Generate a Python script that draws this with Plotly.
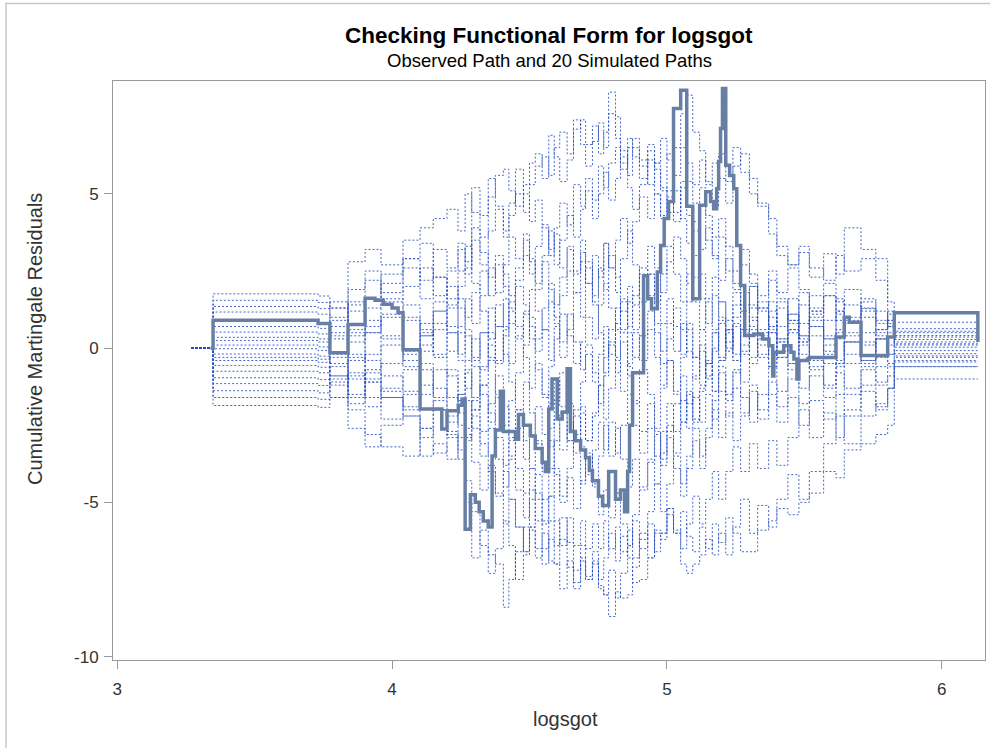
import plotly.graph_objects as go

# ---------------- data ----------------
# common x grid (logsgot values where the simulated paths step)
GRID = [3.271, 3.349, 3.731, 3.774, 3.840, 3.902, 3.960, 4.040, 4.102, 4.150,
        4.200, 4.240, 4.266, 4.290, 4.320, 4.350, 4.376, 4.405, 4.425, 4.449,
        4.478, 4.500, 4.521, 4.546, 4.570, 4.590, 4.610, 4.637, 4.660, 4.686,
        4.704, 4.729, 4.751, 4.770, 4.788, 4.813, 4.831, 4.857, 4.875, 4.900,
        4.930, 4.955, 4.977, 5.000, 5.024, 5.050, 5.072, 5.094, 5.119, 5.141,
        5.165, 5.188, 5.214, 5.240, 5.268, 5.300, 5.330, 5.370, 5.400, 5.440,
        5.480, 5.518, 5.570, 5.615, 5.645, 5.706, 5.760, 5.803, 5.827]
X_END = 6.131

sim01 = [0, 1.76, 1.69, 1.3, 2.8, 3.2, 2.7, 3.5, 3.9, 4.2, 4.5, 3.8, 5.0, 4.4, 3.6, 4.9, 5.6, 5.8, 5.1, 4.6,
         5.3, 6.0, 6.3, 5.5, 6.9, 6.2, 5.4, 6.1, 7.1, 7.4, 6.6, 7.2, 6.3, 7.0, 8.3, 7.5, 6.4, 5.2, 4.5, 5.3,
         6.1, 5.0, 4.2, 4.9, 4.1, 5.4, 4.3, 3.8, 4.6, 3.5, 2.9, 3.6, 2.5, 1.9, 2.7, 2.1, 1.3, 2.2, 1.6, 0.9,
         1.8, 1.2, 1.7, 0.9, 1.4, 1.0, 0.4, 0.7, 0.2]
sim02 = [0, 1.55, 1.48, 1.0, 1.9, 2.5, 1.8, 2.9, 2.2, 3.2, 2.6, 3.4, 2.8, 3.9, 3.1, 2.3, 3.0, 2.4, 1.7, 2.6,
         3.5, 2.9, 2.1, 3.0, 3.8, 2.7, 3.5, 4.3, 3.6, 4.5, 5.1, 4.2, 5.0, 5.7, 4.8, 5.5, 6.2, 5.6, 6.5, 5.9,
         6.6, 6.0, 6.8, 6.1, 6.5, 7.6, 8.2, 7.0, 6.4, 5.3, 6.0, 6.3, 5.4, 6.5, 5.7, 5.0, 4.7, 4.2, 3.3, 2.7,
         3.1, 2.3, 3.06, 2.4, 3.9, 3.2, 2.9, 1.5, 0.84]
sim03 = [0, 1.35, 1.28, 1.5, 0.6, 1.3, 2.1, 2.6, 1.6, 2.3, 1.4, 2.0, 2.6, 5.2, 4.3, 5.5, 4.6, 3.8, 4.7, 5.8,
         5.0, 4.1, 4.8, 3.9, 3.0, 3.7, 2.6, 3.3, 2.4, 3.1, 2.1, 1.5, 2.6, 1.9, 3.0, 2.3, 1.2, 2.0, 1.4, 2.4,
         3.3, 2.6, 1.8, 2.8, 3.6, 2.9, 2.1, 3.0, 2.4, 1.6, 2.3, 1.5, 0.9, 1.8, 1.2, 2.0, 1.3, 0.7, 1.5, 0.9,
         0.4, 1.1, 1.7, 1.2, 1.9, 1.28, 0.8, 1.1, 0.55]
sim04 = [0, 1.17, 1.1, 0.5, 1.4, 0.7, 1.5, 2.0, 2.6, 1.7, 2.5, 3.2, 2.4, 3.5, 2.7, 3.8, 4.5, 3.6, 4.3, 5.0,
         4.4, 5.3, 5.9, 6.2, 5.6, 6.5, 7.0, 6.3, 7.4, 6.6, 5.9, 6.7, 7.3, 6.5, 7.6, 6.8, 6.0, 6.8, 6.2, 5.5,
         6.4, 5.8, 5.1, 6.3, 5.6, 6.5, 5.4, 4.7, 5.2, 4.3, 3.6, 4.2, 3.3, 2.5, 3.2, 2.4, 1.7, 2.5, 1.8, 2.6,
         1.9, 1.3, 2.1, 1.5, 1.0, 1.6, 1.2, 0.7, 0.41]
sim05 = [0, 0.52, 0.46, 0.9, 0.2, 0.9, 0.3, -0.2, 0.8, 1.5, 0.7, 1.6, 1.0, 1.8, 2.5, 1.7, 2.7, 2.0, 1.3, 2.2,
         3.0, 2.4, 3.3, 4.0, 3.2, 3.9, 4.7, 4.0, 5.3, 4.6, 5.5, 4.8, 5.9, 5.2, 6.0, 6.5, 5.8, 6.5, 6.8, 6.1,
         5.3, 6.0, 5.2, 4.4, 5.1, 4.2, 3.4, 4.1, 3.2, 3.9, 3.0, 2.2, 2.9, 2.1, 1.4, 2.0, 1.2, 0.5, 1.3, 0.6,
         1.4, 0.7, -0.2, 0.5, 0.9, 0.1, 0.6, 0.9, 0.36]
sim06 = [0, 0.35, 0.3, -0.3, -0.9, -0.2, 0.4, 0.9, -0.1, 0.6, 1.3, 0.5, -0.4, 0.3, -0.7, 0.1, -0.5, 0.4, 1.2, 0.3,
         1.1, 1.9, 1.2, 0.6, 1.5, 0.8, 1.7, 2.5, 1.8, 2.8, 2.1, 3.0, 2.3, 3.4, 2.6, 3.5, 4.2, 3.4, 4.1, 4.9,
         4.2, 5.0, 4.3, 5.1, 4.4, 5.2, 6.0, 5.3, 6.1, 5.4, 4.6, 5.5, 4.7, 5.9, 6.3, 5.5, 4.6, 3.7, 3.0, 2.7,
         3.3, 2.6, 2.2, 3.0, 2.5, 2.9, 2.2, 0.7, 0.14]
sim07 = [0, 0.25, 0.2, 0.7, 1.5, 2.2, 1.6, 1.0, 0.4, 1.2, 0.5, -0.2, 0.6, -0.3, 0.5, 1.3, 0.7, 1.6, 0.8, 2.0,
         1.4, 0.7, -0.1, 0.6, -0.4, 0.3, 1.1, 0.4, -0.5, 0.2, 1.0, 0.3, 1.4, 2.1, 1.3, 0.6, 1.5, 0.5, -0.3, 0.4,
         1.2, 0.5, -0.5, 0.3, 1.3, 0.6, 1.5, 2.3, 1.6, 0.8, 1.7, 1.0, 0.2, 1.0, 1.8, 0.9, 1.5, 0.7, -0.1, 0.8,
         0.2, 0.9, 0.3, -0.4, 0.2, -0.5, 0.3, 0.5, 0.03]
sim08 = [0, 0.1, 0.04, -0.5, 0.4, 1.6, 2.4, 2.9, 3.4, 2.3, 1.6, 2.5, 3.3, 2.1, 1.2, 0.3, 1.4, 0.7, -0.5, 0.4,
         1.2, 0.3, -0.7, -1.6, -0.6, 0.7, -0.3, 0.6, 1.8, 1.0, 2.6, 1.4, 0.5, -0.8, 0.2, 1.3, 0.5, -0.6, -1.8, -0.7,
         -1.5, -2.6, -1.3, -0.4, -1.4, -0.3, 0.8, -0.3, 0.6, -0.5, 0.5, -0.4, 0.6, -0.2, -1.1, -0.3, 0.5, -0.6, 0.3, -0.5,
         0.4, -0.7, 0.1, -0.6, 0.2, -0.4, 0.3, -0.2, -0.08]
sim09 = [0, -0.02, -0.08, 0.4, -0.3, -1.1, -0.5, -0.1, 0.5, -0.2, -0.9, -1.7, -0.8, -2.0, -1.2, -0.4, -1.5, -2.5, -1.7, -0.8,
         0.1, 1.0, 0.3, 1.3, 2.1, 1.4, 2.3, 3.2, 2.5, 3.5, 2.8, 1.7, 2.5, 3.4, 2.6, 1.8, 2.9, 3.8, 2.7, 1.6,
         2.4, 1.7, 0.8, 1.6, 0.7, -0.2, 0.6, -0.3, -1.2, -0.4, 0.5, -0.3, 0.6, -0.4, 0.4, -0.5, 0.3, -0.6, 0.2, -0.7,
         0.1, -0.6, -1.3, -0.5, 0.2, -0.4, 0.3, -0.5, -0.18]
sim10 = [0, -0.19, -0.26, -0.9, -1.6, -0.8, -1.4, -1.9, -2.6, -1.7, -2.4, -1.5, -0.7, -1.6, -0.6, 0.5, -0.4, 0.6, 1.5, 0.7,
         -0.3, -1.3, -0.5, -1.5, -2.6, -1.7, -0.8, -1.8, -2.8, -1.9, -3.0, -2.2, -1.2, -2.3, -1.3, -0.4, -1.4, -0.5, 0.5, -0.4,
         0.6, -0.3, -1.2, -0.4, -1.5, -2.4, -1.4, -2.3, -1.3, -0.5, -1.4, -0.6, -1.5, -0.7, -1.6, -2.4, -1.5, -0.6, -1.4, -0.5,
         -1.3, -0.4, -1.2, -0.5, -1.3, -0.6, -1.1, -0.6, -0.3]
sim11 = [0, -0.4, -0.46, 0.3, 1.2, 0.5, 1.1, -0.4, 0.4, 1.2, 2.0, 1.3, 0.4, -0.6, -1.5, -2.4, -1.6, -2.7, -3.5, -2.6,
         -3.6, -2.8, -1.9, -2.8, -1.8, -1.0, -1.9, -3.0, -2.2, -3.2, -4.1, -3.3, -2.4, -3.3, -2.4, -3.4, -2.5, -1.5, -2.5, -3.4,
         -2.6, -3.5, -2.7, -1.8, -2.7, -1.7, -2.6, -1.6, -2.4, -1.5, -2.3, -1.4, -2.2, -1.3, -2.1, -1.2, -2.0, -1.1, -1.9, -1.0,
         -1.8, -0.9, -1.6, -0.8, -1.5, -0.7, -1.2, -0.9, -0.4]
sim12 = [0, -0.56, -0.62, -1.2, -0.4, 0.5, 1.0, 1.4, 0.6, -0.3, 0.5, -0.4, -1.3, -0.4, 0.5, -0.3, 0.7, -0.2, -1.1, -2.0,
         -1.1, -2.1, -3.0, -3.9, -3.0, -4.1, -5.0, -4.2, -5.2, -4.3, -3.4, -4.4, -3.5, -2.5, -3.5, -2.6, -3.6, -4.5, -3.6, -4.6,
         -3.7, -2.8, -3.8, -2.9, -3.9, -4.8, -3.9, -3.0, -3.9, -2.9, -2.0, -2.9, -2.1, -3.0, -2.2, -1.4, -2.3, -1.5, -2.4, -1.6,
         -2.5, -1.7, -2.3, -1.5, -2.2, -1.4, -2.0, -1.3, -0.45]
sim13 = [0, -0.75, -0.8, -0.2, -1.0, -1.9, -1.3, -0.7, 0.1, 0.8, -0.1, 0.7, 1.6, 0.8, 1.7, 2.6, 1.8, 2.7, 3.6, 2.9,
         3.7, 2.8, 1.9, 2.8, 1.9, 1.0, 0.2, 1.1, 0.2, -0.7, 0.1, -0.8, -1.8, -0.9, 0.1, -0.8, 0.2, -0.9, -1.7, -2.7,
         -1.8, -2.7, -3.6, -2.7, -1.8, -0.9, -1.8, -0.9, 0.1, -0.9, 0.0, 0.9, 0.0, 0.8, -0.1, 0.7, -0.2, 0.6, -0.3, 0.5,
         -0.4, 0.4, -0.5, 0.3, -0.5, 0.2, -0.6, 0.1, -0.25]
sim14 = [0, -0.96, -1.02, -1.6, -0.8, -1.6, -2.3, -1.5, -0.7, -1.6, -0.7, -1.7, -2.6, -1.7, -2.7, -1.8, -0.9, -1.9, -2.9, -2.0,
         -3.0, -3.9, -3.1, -4.0, -3.2, -2.3, -3.3, -2.4, -3.4, -4.4, -3.5, -4.5, -5.4, -4.6, -5.5, -4.7, -5.7, -6.4, -5.6, -6.5,
         -5.7, -6.6, -6.0, -5.2, -6.0, -5.3, -6.1, -6.6, -5.8, -6.5, -5.7, -6.3, -5.5, -6.0, -6.6, -6.6, -5.9, -5.6, -5.2, -5.4,
         -5.0, -4.7, -4.0, -4.2, -3.3, -3.1, -2.8, -2.5, -1.0]
sim15 = [0, -1.15, -1.21, -0.6, -1.5, -0.7, 0.1, -0.6, -1.5, -0.7, -1.6, -2.5, -1.7, -2.6, -3.5, -2.6, -3.6, -4.5, -3.6, -4.6,
         -5.5, -4.6, -5.6, -6.5, -5.6, -6.4, -5.5, -6.3, -7.2, -6.4, -7.4, -6.6, -7.5, -6.8, -6.0, -6.9, -6.1, -6.8, -7.6, -7.5,
         -6.8, -6.0, -6.2, -5.4, -5.9, -6.5, -5.7, -4.8, -5.7, -4.9, -4.0, -4.9, -4.0, -3.2, -4.0, -3.1, -3.9, -3.0, -3.8, -2.9,
         -2.0, -2.9, -2.1, -2.9, -2.0, -1.2, -1.9, -1.3, -0.6]
sim16 = [0, -1.38, -1.45, -0.9, -1.8, -1.0, -1.6, -2.2, -2.9, -2.0, -2.8, -3.6, -2.8, -3.7, -4.6, -3.8, -4.7, -5.7, -4.9, -5.8,
         -6.6, -5.9, -6.8, -6.0, -6.9, -7.0, -6.2, -7.1, -7.8, -6.9, -7.5, -7.0, -7.8, -8.0, -7.2, -8.1, -7.3, -6.4, -5.4, -4.5,
         -3.6, -4.4, -3.4, -2.5, -3.4, -2.4, -1.5, -2.4, -1.4, -0.5, -1.4, -0.4, 0.5, -0.4, 0.6, 1.4, 0.6, 1.5, 0.7, 1.6,
         0.8, 1.7, 0.9, 1.6, 0.8, 1.5, 0.9, 0.8, 0.1]
sim17 = [0, -1.6, -1.66, -1.1, -2.0, -2.8, -3.2, -3.5, -2.6, -3.4, -2.7, -3.3, -5.0, -6.8, -5.9, -6.7, -7.0, -8.4, -7.5, -6.6,
         -5.8, -4.9, -4.1, -4.9, -3.9, -3.0, -2.1, -3.0, -2.0, -1.1, -0.2, -1.1, -0.2, 0.7, -0.2, 0.8, 1.6, 0.7, 1.7, 2.6,
         1.7, 0.8, -0.1, 0.8, -0.1, 0.8, -0.1, -1.0, -0.1, -1.0, -0.1, 0.8, -0.1, 0.7, -0.2, 0.6, -0.3, 0.5, -0.3, 0.6,
         -0.2, 0.7, -0.1, 0.6, -0.2, 0.5, -0.3, -0.2, 0.28]
sim18 = [0, -1.86, -1.92, -1.6, -2.6, -3.2, -2.5, -2.2, -3.5, -3.1, -3.6, -2.9, -4.3, -5.3, -6.4, -7.3, -6.5, -5.6, -6.4, -7.5,
         -6.7, -5.8, -4.9, -5.7, -4.8, -3.9, -4.8, -3.9, -3.0, -2.1, -3.0, -2.1, -1.2, -0.3, 0.6, -0.3, 0.6, 1.5, 0.6, 1.5,
         2.4, 1.5, 2.4, 3.3, 2.4, 1.5, 2.4, 1.5, 0.6, 1.5, 0.6, 1.5, 0.6, 1.4, 0.5, 1.3, 0.4, 1.2, 0.3, 1.1,
         0.2, 1.0, 0.3, 1.1, 0.4, 1.2, 0.5, 0.9, 0.5]
sim19 = [0, 0.7, 0.64, 1.3, 0.5, -0.4, -0.9, -1.4, -0.5, -1.3, -2.2, -1.5, -3.0, -2.2, -3.1, -4.0, -4.8, -4.0, -4.9, -5.8,
         -6.6, -5.8, -6.5, -7.0, -6.2, -7.0, -7.8, -6.9, -7.6, -6.8, -7.5, -6.9, -7.7, -8.0, -8.7, -7.9, -8.1, -8.0, -7.1, -6.2,
         -5.3, -4.4, -5.3, -4.4, -3.5, -4.4, -3.5, -2.6, -3.5, -2.6, -1.7, -0.8, -1.7, -0.8, 0.1, 1.0, 0.1, 1.0, 0.2, 1.1,
         0.3, 1.2, 0.4, 1.2, 0.5, 1.3, 0.6, 1.2, 0.63]
sim20 = [0, -0.3, -0.36, -1.0, -0.2, -1.1, -1.6, -2.0, -1.2, -2.0, -2.9, -2.1, -2.9, -2.0, -1.2, -2.1, -2.9, -3.8, -3.0, -3.9,
         -4.7, -3.9, -4.7, -5.6, -4.8, -5.6, -6.4, -5.5, -6.4, -5.6, -6.5, -5.7, -6.5, -5.6, -6.5, -5.8, -6.6, -5.9, -6.8, -6.0,
         -6.8, -5.9, -6.0, -5.2, -6.0, -7.0, -7.3, -7.0, -6.7, -6.2, -6.7, -6.0, -6.7, -5.8, -4.9, -6.0, -5.1, -5.8, -4.9, -4.1,
         -4.9, -4.0, -3.1, -2.2, -3.1, -2.2, -1.8, -1.3, -0.6]

SIMULATED = [sim01, sim02, sim03, sim04, sim05, sim06, sim07, sim08, sim09, sim10,
             sim11, sim12, sim13, sim14, sim15, sim16, sim17, sim18, sim19, sim20]

# observed path (step function)
obs_x = [3.340, 3.349, 3.731, 3.774, 3.840, 3.902, 3.938, 3.968, 4.000, 4.022,
         4.040, 4.102, 4.181, 4.200, 4.241, 4.255, 4.266, 4.285, 4.303, 4.317,
         4.332, 4.350, 4.364, 4.376, 4.394, 4.405, 4.449, 4.460, 4.478, 4.503,
         4.521, 4.546, 4.558, 4.570, 4.582, 4.601, 4.619, 4.637, 4.649, 4.667,
         4.686, 4.704, 4.718, 4.729, 4.751, 4.766, 4.788, 4.813, 4.831, 4.846,
         4.857, 4.864, 4.875, 4.915, 4.930, 4.944, 4.965, 4.977, 4.990, 5.006,
         5.024, 5.050, 5.072, 5.094, 5.119, 5.141, 5.159, 5.170, 5.181, 5.188,
         5.195, 5.202, 5.214, 5.228, 5.243, 5.254, 5.268, 5.283, 5.316, 5.348,
         5.371, 5.385, 5.389, 5.425, 5.451, 5.462, 5.473, 5.480, 5.512, 5.518,
         5.615, 5.645, 5.663, 5.706, 5.803, 5.827, 6.131]
obs_y = [0.0, 0.9, 0.8, -0.15, 0.77, 1.62, 1.55, 1.42, 1.3, 1.15,
         -0.05, -1.97, -2.62, -2.03, -1.85, -1.65, -5.87, -4.75, -5.0, -5.3,
         -5.6, -5.8, -3.5, -2.65, -1.4, -2.7, -2.95, -2.15, -2.5, -2.85,
         -3.25, -3.7, -4.0, -1.97, -1.0, -2.3, -2.07, -0.67, -2.7, -3.0,
         -3.3, -3.55, -3.97, -4.3, -4.8, -5.1, -4.0, -4.9, -4.6, -5.3,
         -4.0, -2.5, -0.8, 2.35, 1.6, 1.28, 2.47, 3.33, 4.2, 4.75,
         7.77, 8.36, 4.6, 1.6, 4.63, 5.07, 4.75, 4.52, 5.17, 6.05,
         7.12, 8.42, 5.93, 5.6, 5.17, 3.33, 2.03, 0.41, 0.46, 0.3,
         0.08, -0.9, -0.13, 0.08, -0.13, -0.35, -1.0, -0.4, -0.35, -0.3,
         0.36, 1.0, 0.84, -0.24, 0.36, 1.15, 0.2]

X_TICKS = [3, 4, 5, 6]
X_TICKTEXT = ["3", "4", "5", "6"]
Y_TICKS = [-10, -5, 0, 5]
Y_TICKTEXT = ["-10", "-5", "0", "5"]
TITLE = "Checking Functional Form for logsgot"
SUBTITLE = "Observed Path and 20 Simulated Paths"
X_LABEL = "logsgot"
Y_LABEL = "Cumulative Martingale Residuals"

for s in SIMULATED:
    assert len(s) == len(GRID)
assert len(obs_x) == len(obs_y)

# ---------------- figure ----------------
FONT = "Liberation Sans, Arial, sans-serif"
SIM_COLOR = "rgba(35,75,190,0.85)"
OBS_COLOR = "rgb(104,127,165)"
AXIS_COLOR = "#9a9a9a"

fig = go.Figure()
for vals in SIMULATED:
    fig.add_trace(go.Scatter(
        x=GRID + [X_END], y=vals + [vals[-1]], mode="lines", line_shape="hv",
        line=dict(color=SIM_COLOR, width=1, dash="2px,2px"),
        hoverinfo="skip", showlegend=False))

fig.add_trace(go.Scatter(
    x=obs_x, y=obs_y, mode="lines", line_shape="hv",
    line=dict(color=OBS_COLOR, width=3.5), showlegend=False))

L, R, T, B = 113, 5, 81, 88
W, H = 990, 748
pw, ph = W - L - R, H - T - B


def px2paper_x(px):
    return (px - L) / pw


def px2paper_y(py):
    return (H - B - py) / ph


axis_common = dict(ticks="outside", ticklen=8, tickcolor=AXIS_COLOR, showgrid=False,
                   zeroline=False, showline=True, linecolor=AXIS_COLOR, linewidth=1,
                   mirror=True, tickfont=dict(size=17, color="#333333", family=FONT))

fig.update_layout(
    width=W, height=H,
    margin=dict(l=L, r=R, t=T, b=B, pad=0),
    paper_bgcolor="white", plot_bgcolor="white",
    font=dict(family=FONT, size=14, color="#333333"),
    xaxis=dict(range=[2.985, 6.157], tickvals=X_TICKS, ticktext=X_TICKTEXT,
               ticklabelstandoff=6, **axis_common),
    yaxis=dict(range=[-10.11, 8.66], tickvals=Y_TICKS, ticktext=Y_TICKTEXT,
               ticklabelstandoff=2, **axis_common),
    annotations=[
        dict(text="<b>" + TITLE + "</b>", xref="paper", yref="paper",
             x=0.5, y=px2paper_y(35), xanchor="center", yanchor="middle",
             showarrow=False, font=dict(size=22.5, color="black", family=FONT)),
        dict(text=SUBTITLE, xref="paper", yref="paper",
             x=0.5, y=px2paper_y(60), xanchor="center", yanchor="middle",
             showarrow=False, font=dict(size=18.5, color="black", family=FONT)),
        dict(text=X_LABEL, xref="paper", yref="paper",
             x=px2paper_x(565), y=px2paper_y(719), xanchor="center", yanchor="middle",
             showarrow=False, font=dict(size=20, color="#333333", family=FONT)),
        dict(text=Y_LABEL, xref="paper", yref="paper",
             x=px2paper_x(35), y=px2paper_y(339), xanchor="center", yanchor="middle",
             textangle=-90, showarrow=False, font=dict(size=20, color="#333333", family=FONT)),
    ],
    shapes=[dict(type="rect", xref="paper", yref="paper",
                 x0=px2paper_x(6), x1=px2paper_x(1000),
                 y0=px2paper_y(760), y1=px2paper_y(3.5),
                 line=dict(color="#c8c8c8", width=1.5), fillcolor="rgba(0,0,0,0)",
                 layer="below")],
)

fig.write_html("out.html")
